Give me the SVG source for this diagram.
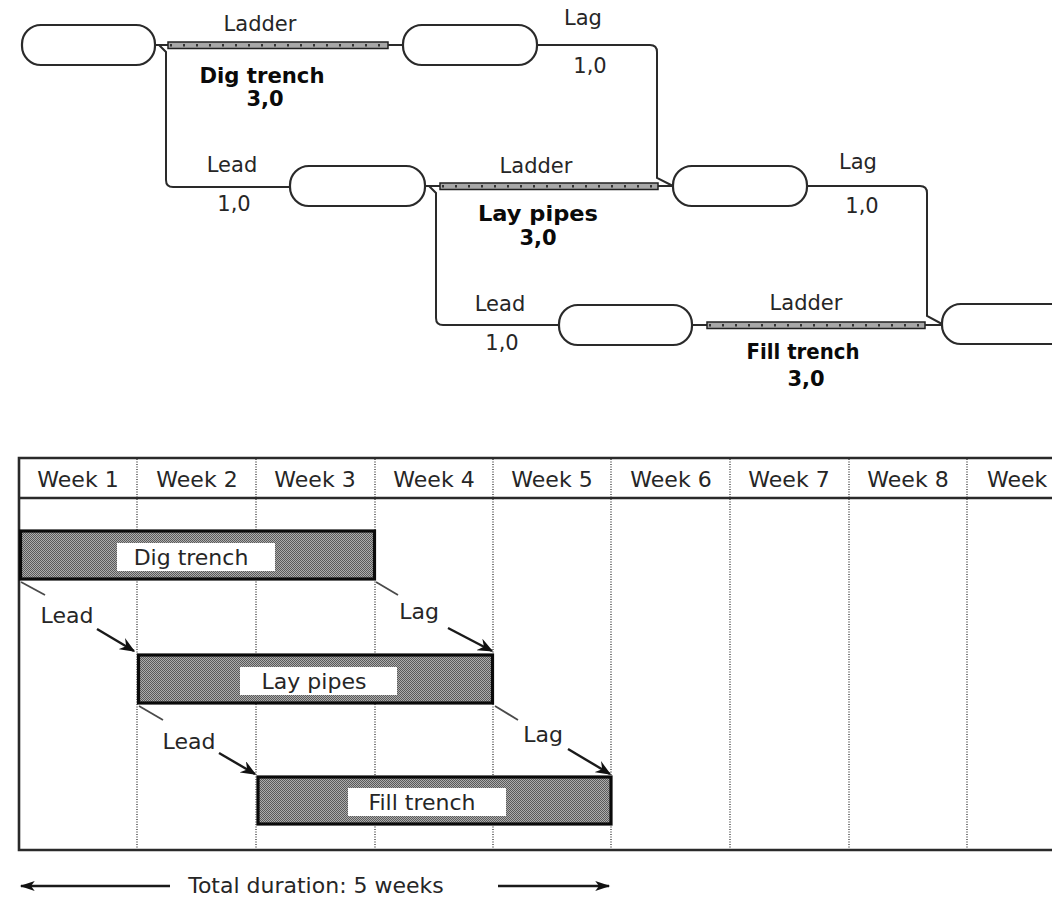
<svg xmlns="http://www.w3.org/2000/svg" width="1052" height="899" viewBox="0 0 1052 899">
  <defs>
    <style>
      .node { fill: #ffffff; stroke: #2a2a2a; stroke-width: 2.2; }
      .wire { fill: none; stroke: #2a2a2a; stroke-width: 2; }
      .rail { fill: #a8a8a8; stroke: #222222; stroke-width: 1.5; }
      .rung { fill: none; stroke: #333333; stroke-width: 2.4; stroke-dasharray: 2 11; }
      .lbl { font-family: "DejaVu Sans", "Liberation Sans", sans-serif; font-size: 21px; fill: #262626; text-anchor: middle; }
      .task { font-family: "DejaVu Sans", "Liberation Sans", sans-serif; font-size: 21px; font-weight: bold; fill: #0a0a0a; text-anchor: middle; }
      .gtxt { font-family: "DejaVu Sans", "Liberation Sans", sans-serif; font-size: 22px; fill: #262626; text-anchor: middle; }
      .grid { fill: none; stroke: #5a5a5a; stroke-width: 1.6; stroke-dasharray: 1 1.5; }
      .frame { fill: none; stroke: #2a2a2a; stroke-width: 2.6; }
      .bar { fill: url(#shade); stroke: #0a0a0a; stroke-width: 3.2; }
      .tag { fill: #ffffff; }
      .tick { fill: none; stroke: #4a4a4a; stroke-width: 1.8; }
      .arrow { fill: none; stroke: #1a1a1a; stroke-width: 2.4; marker-end: url(#head); }
      .span { fill: none; stroke: #1a1a1a; stroke-width: 2.4; marker-end: url(#spanhead); }
    </style>
    <pattern id="shade" width="2" height="2" patternUnits="userSpaceOnUse">
      <rect width="2" height="2" fill="#adadad"/>
      <rect width="1" height="1" fill="#5a5a5a"/>
      <rect x="1" y="1" width="1" height="1" fill="#5a5a5a"/>
    </pattern>
    <marker id="head" viewBox="0 0 12 10" refX="11" refY="5" markerWidth="16" markerHeight="13" markerUnits="userSpaceOnUse" orient="auto">
      <path d="M0,0 L12,5 L0,10 L4,5 z" fill="#111111"/>
    </marker>
    <marker id="spanhead" viewBox="0 0 12 8" refX="11" refY="4" markerWidth="16" markerHeight="10" markerUnits="userSpaceOnUse" orient="auto">
      <path d="M0,0 L12,4 L0,8 L3,4 z" fill="#111111"/>
    </marker>
  </defs>

  <rect width="1052" height="899" fill="#ffffff"/>

  <!-- precedence network: links -->
  <g id="connectors">
    <!-- Dig trench ladder -->
    <line class="wire" x1="155" y1="45" x2="168" y2="45"/>
    <rect class="rail" x="168" y="42" width="220" height="6.5"/>
    <line class="rung" x1="170" y1="45.2" x2="386" y2="45.2"/>
    <line class="wire" x1="388" y1="45" x2="403" y2="45"/>
    <!-- lead into Lay pipes -->
    <path class="wire" d="M159,45 L166,52 V180 Q166,187 173,187 H290"/>
    <!-- lag out of Dig trench -->
    <path class="wire" d="M537,45 H650 Q657,45 657,52 V178 L673,186"/>

    <!-- Lay pipes ladder -->
    <line class="wire" x1="425" y1="186" x2="440" y2="186"/>
    <rect class="rail" x="440" y="183" width="218" height="6.5"/>
    <line class="rung" x1="442" y1="186.2" x2="656" y2="186.2"/>
    <line class="wire" x1="658" y1="186" x2="673" y2="186"/>
    <!-- lead into Fill trench -->
    <path class="wire" d="M429,186 L436,193 V318 Q436,325 443,325 H559"/>
    <!-- lag out of Lay pipes -->
    <path class="wire" d="M807,186 H920 Q927,186 927,193 V316 L942,324"/>

    <!-- Fill trench ladder -->
    <line class="wire" x1="692" y1="325" x2="707" y2="325"/>
    <rect class="rail" x="707" y="322" width="218" height="6.5"/>
    <line class="rung" x1="709" y1="325.2" x2="923" y2="325.2"/>
    <line class="wire" x1="925" y1="325" x2="942" y2="325"/>
  </g>

  <!-- precedence network: link labels -->
  <g id="link-labels">
    <text class="lbl" x="260" y="31">Ladder</text>
    <text class="task" x="262" y="83" textLength="125" lengthAdjust="spacingAndGlyphs">Dig trench</text>
    <text class="task" x="265" y="106">3,0</text>
    <text class="lbl" x="583" y="25">Lag</text>
    <text class="lbl" x="590" y="73">1,0</text>
    <text class="lbl" x="232" y="172">Lead</text>
    <text class="lbl" x="234" y="211">1,0</text>

    <text class="lbl" x="536" y="173">Ladder</text>
    <text class="task" x="538" y="221" textLength="120" lengthAdjust="spacingAndGlyphs">Lay pipes</text>
    <text class="task" x="538" y="245">3,0</text>
    <text class="lbl" x="858" y="169">Lag</text>
    <text class="lbl" x="862" y="213">1,0</text>
    <text class="lbl" x="500" y="311">Lead</text>
    <text class="lbl" x="502" y="350">1,0</text>

    <text class="lbl" x="806" y="310">Ladder</text>
    <text class="task" x="803" y="359" textLength="113" lengthAdjust="spacingAndGlyphs">Fill trench</text>
    <text class="task" x="806" y="386">3,0</text>
  </g>

  <!-- precedence network: event nodes -->
  <g id="node-1"><rect class="node" x="22" y="25" width="133" height="40" rx="19"/></g>
  <g id="node-2"><rect class="node" x="403" y="25" width="134" height="40" rx="19"/></g>
  <g id="node-3"><rect class="node" x="290" y="166" width="135" height="40" rx="19"/></g>
  <g id="node-4"><rect class="node" x="673" y="166" width="134" height="40" rx="19"/></g>
  <g id="node-5"><rect class="node" x="559" y="305" width="133" height="40" rx="19"/></g>
  <g id="node-6"><rect class="node" x="942" y="304" width="140" height="40" rx="19"/></g>

  <!-- bar chart -->
  <g id="chart">
    <g id="grid">
      <line class="grid" x1="137" y1="459" x2="137" y2="849"/>
      <line class="grid" x1="256" y1="459" x2="256" y2="849"/>
      <line class="grid" x1="375" y1="459" x2="375" y2="849"/>
      <line class="grid" x1="493" y1="459" x2="493" y2="849"/>
      <line class="grid" x1="611" y1="459" x2="611" y2="849"/>
      <line class="grid" x1="730" y1="459" x2="730" y2="849"/>
      <line class="grid" x1="849" y1="459" x2="849" y2="849"/>
      <line class="grid" x1="967" y1="459" x2="967" y2="849"/>
    </g>
    <path class="frame" d="M1052,458 H19 V850 H1052"/>
    <line class="frame" x1="19" y1="498" x2="1052" y2="498"/>

    <g id="weeks">
      <text class="gtxt" x="78" y="487">Week 1</text>
      <text class="gtxt" x="197" y="487">Week 2</text>
      <text class="gtxt" x="315" y="487">Week 3</text>
      <text class="gtxt" x="434" y="487">Week 4</text>
      <text class="gtxt" x="552" y="487">Week 5</text>
      <text class="gtxt" x="671" y="487">Week 6</text>
      <text class="gtxt" x="789" y="487">Week 7</text>
      <text class="gtxt" x="908" y="487">Week 8</text>
      <text class="gtxt" x="987" y="487" style="text-anchor:start">Week</text>
    </g>

    <g id="bar-dig-trench">
      <rect class="bar" x="20.5" y="531" width="354" height="48"/>
      <rect class="tag" x="117" y="543" width="158" height="28"/>
      <text class="gtxt" x="191" y="565">Dig trench</text>
    </g>
    <g id="bar-lay-pipes">
      <rect class="bar" x="138.5" y="655" width="354" height="48"/>
      <rect class="tag" x="240" y="667" width="157" height="28"/>
      <text class="gtxt" x="314" y="689">Lay pipes</text>
    </g>
    <g id="bar-fill-trench">
      <rect class="bar" x="258" y="777" width="353" height="47"/>
      <rect class="tag" x="348" y="788" width="158" height="28"/>
      <text class="gtxt" x="422" y="810">Fill trench</text>
    </g>

    <g id="chart-links">
      <line class="tick" x1="21" y1="582" x2="45" y2="595"/>
      <text class="gtxt" x="67" y="623">Lead</text>
      <line class="arrow" x1="97" y1="629" x2="134" y2="651"/>

      <line class="tick" x1="376" y1="582" x2="398" y2="595"/>
      <text class="gtxt" x="419" y="619">Lag</text>
      <line class="arrow" x1="448" y1="628" x2="492" y2="651"/>

      <line class="tick" x1="139" y1="706" x2="163" y2="720"/>
      <text class="gtxt" x="189" y="749">Lead</text>
      <line class="arrow" x1="219" y1="753" x2="255" y2="774"/>

      <line class="tick" x1="495" y1="706" x2="518" y2="720"/>
      <text class="gtxt" x="543" y="742">Lag</text>
      <line class="arrow" x1="568" y1="749" x2="610" y2="774"/>
    </g>
  </g>

  <!-- overall span -->
  <g id="total-duration">
    <line class="span" x1="170" y1="886" x2="21" y2="886"/>
    <text class="gtxt" x="316" y="893">Total duration: 5 weeks</text>
    <line class="span" x1="498" y1="886" x2="609" y2="886"/>
  </g>
</svg>
